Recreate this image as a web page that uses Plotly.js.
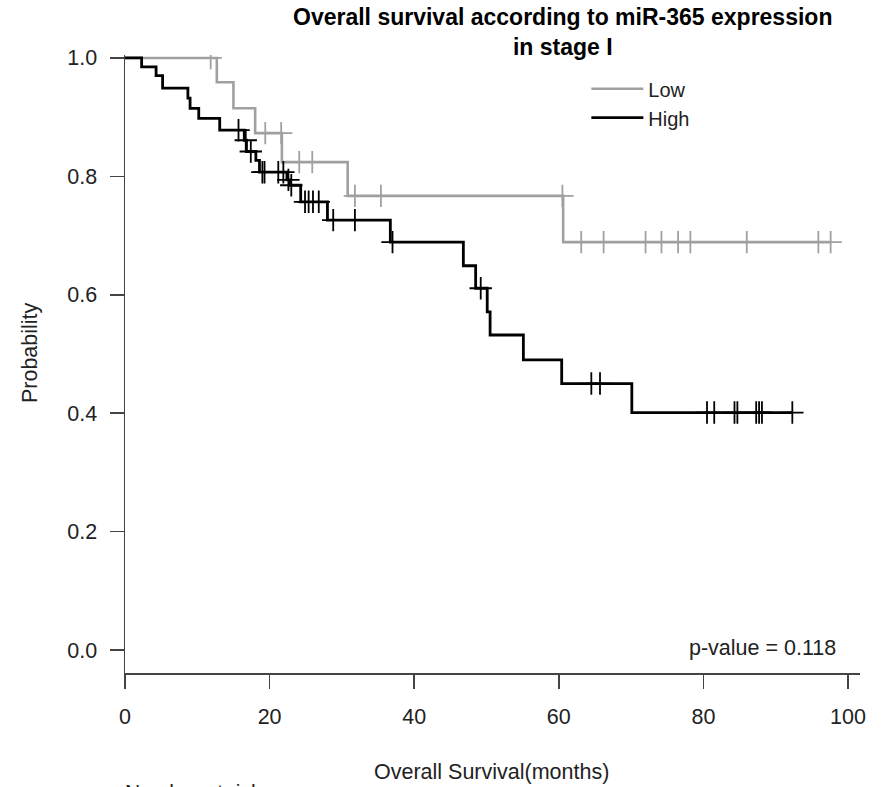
<!DOCTYPE html>
<html>
<head>
<meta charset="utf-8">
<script src="https://cdn.plot.ly/plotly-3.0.1.min.js"></script>
<style>
html,body{margin:0;padding:0;background:#fff;}
#chart{width:881px;height:787px;}
</style>
</head>
<body>
<div id="chart"></div>
<script>
// ---- Data (months, survival probability) ----
var lowTimes   = [0, 12.7, 15.0, 18.0, 21.7, 30.8, 60.6, 97.6];
var lowSurv    = [1.0, 0.959, 0.915, 0.873, 0.824, 0.767, 0.689, 0.689];
var lowCensor  = [11.85, 19.4, 21.6, 24.1, 25.9, 31.8, 35.4, 60.5, 63.1, 66.2, 72.0, 74.2, 76.5, 78.2, 86.0, 95.9, 97.6];

var highTimes  = [0, 2.3, 4.3, 5.2, 8.7, 9.0, 10.2, 13.1, 16.5, 16.8, 18.1, 18.6, 22.4, 22.8, 24.3, 28.0, 36.7, 46.8, 48.5, 50.1, 50.5, 55.1, 60.4, 70.1, 92.3];
var highSurv   = [1.0, 0.985, 0.970, 0.949, 0.932, 0.915, 0.898, 0.878, 0.861, 0.842, 0.827, 0.807, 0.794, 0.785, 0.757, 0.726, 0.689, 0.649, 0.611, 0.571, 0.532, 0.490, 0.450, 0.401, 0.401];
var highCensor = [15.7, 16.7, 17.4, 19.0, 19.3, 21.2, 21.9, 22.6, 23.0, 24.9, 25.4, 26.0, 26.8, 28.8, 31.8, 37.0, 49.2, 64.5, 65.7, 80.5, 81.5, 84.3, 84.7, 87.3, 87.7, 88.1, 92.3];

var groupNames = ["Low", "High"];
var xTicks = [0, 20, 40, 60, 80, 100];
var yTicks = [0.0, 0.2, 0.4, 0.6, 0.8, 1.0];
var titleText = "Overall survival according to miR-365 expression<br>in stage I";
var xTitle = "Overall Survival(months)";
var yTitle = "Probability";
var pValueText = "p-value = 0.118";
var riskText = "Number at risk";

// step-function lookup for censor mark heights
function survAt(times, surv, t) {
  var s = surv[0];
  for (var i = 0; i < times.length; i++) { if (times[i] <= t) s = surv[i]; }
  return s;
}

var grayCol = "#a0a0a0";
var blackCol = "#000000";
var FONT = "Liberation Sans, Arial, sans-serif";
var TXT = "#222";

var traces = [
  {x: lowTimes, y: lowSurv, mode: "lines", line: {shape: "hv", color: grayCol, width: 2.6}, name: groupNames[0], showlegend: true},
  {x: lowCensor, y: lowCensor.map(function(t){return survAt(lowTimes, lowSurv, t);}), mode: "markers",
   marker: {symbol: "cross-thin", size: 16, line: {color: grayCol, width: 1.8}}, showlegend: false, hoverinfo: "skip"},
  {x: highTimes, y: highSurv, mode: "lines", line: {shape: "hv", color: blackCol, width: 2.8}, name: groupNames[1], showlegend: true},
  {x: highCensor, y: highCensor.map(function(t){return survAt(highTimes, highSurv, t);}), mode: "markers",
   marker: {symbol: "cross-thin", size: 16, line: {color: blackCol, width: 1.8}}, showlegend: false, hoverinfo: "skip"}
];

var layout = {
  width: 881, height: 787,
  paper_bgcolor: "#fff", plot_bgcolor: "#fff",
  margin: {l: 125, r: 21, t: 55, b: 114},
  font: {family: FONT, size: 21, color: TXT},
  showlegend: true,
  legend: {x: 0.6277, y: 0.977, xanchor: "left", yanchor: "top", bgcolor: "rgba(0,0,0,0)",
           font: {family: FONT, size: 20, color: TXT}, tracegroupgap: 0, itemwidth: 52},
  xaxis: {range: [0, 101.66], tickvals: xTicks, ticktext: xTicks.map(String), showgrid: false, zeroline: false,
          showline: true, linecolor: "#444", linewidth: 1.5, ticks: "outside", ticklen: 14, tickwidth: 1.5, tickcolor: "#444",
          tickfont: {family: FONT, size: 21.5, color: TXT}, ticklabelstandoff: 10},
  yaxis: {range: [-0.0389, 1.005], tickvals: yTicks, ticktext: yTicks.map(function(v){return v.toFixed(1);}), showgrid: false, zeroline: false,
          showline: true, linecolor: "#444", linewidth: 1.5, ticks: "outside", ticklen: 14, tickwidth: 1.5, tickcolor: "#444",
          tickfont: {family: FONT, size: 21.5, color: TXT}, ticklabelstandoff: 8},
  annotations: [
    {text: "<b>" + titleText.replace("<br>", "</b><br><b>") + "</b>", xref: "paper", yref: "paper", x: 0.5946, y: 1.037,
     xanchor: "center", yanchor: "middle", showarrow: false, font: {family: FONT, size: 23, color: "#000"}},
    {text: xTitle, xref: "paper", yref: "paper", x: 0.499, y: -0.160, xanchor: "center", yanchor: "middle", showarrow: false,
     font: {family: FONT, size: 21.5, color: TXT}},
    {text: yTitle, xref: "paper", yref: "paper", x: -0.129, y: 0.518, xanchor: "center", yanchor: "middle", textangle: -90,
     showarrow: false, font: {family: FONT, size: 21.5, color: TXT}},
    {text: pValueText, xref: "paper", yref: "paper", x: 0.970, y: 0.0405, xanchor: "right", yanchor: "middle", showarrow: false,
     font: {family: FONT, size: 21.5, color: TXT}},
    {text: riskText, xref: "paper", yref: "paper", x: -0.003, y: -0.170, xanchor: "left", yanchor: "top", showarrow: false,
     font: {family: FONT, size: 21, color: TXT}}
  ]
};

Plotly.newPlot("chart", traces, layout, {displayModeBar: false, staticPlot: true});
</script>
</body>
</html>
